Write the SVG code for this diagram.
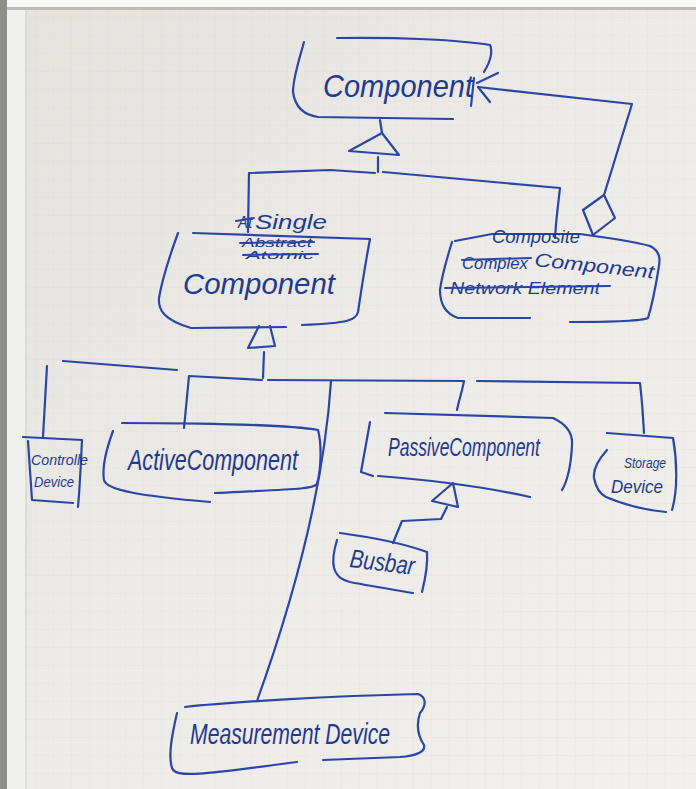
<svg xmlns="http://www.w3.org/2000/svg" width="696" height="789" viewBox="0 0 696 789">
  <style>
    .ink { fill: none; stroke: #2b45a5; stroke-width: 2.2; stroke-linecap: round; stroke-linejoin: round; }
    .t { font-family: "Liberation Sans", Arial, sans-serif; font-style: italic; fill: #22398f; }
    .gone { stroke: #2b45a5; stroke-width: 2; stroke-linecap: round; }
  </style>
  <defs>
    <linearGradient id="paper" x1="0" y1="0" x2="1" y2="1">
      <stop offset="0" stop-color="#e3e2dd"/>
      <stop offset="0.5" stop-color="#ecebe7"/>
      <stop offset="1" stop-color="#f1f0ec"/>
    </linearGradient>
    <pattern id="grid" width="18" height="18" patternUnits="userSpaceOnUse">
      <path d="M18 0 V18 M0 18 H18" fill="none" stroke="#d3d5d3" stroke-width="0.8"/>
    </pattern>
  </defs>

  <!-- flipchart sheet -->
  <rect x="0" y="0" width="696" height="789" fill="url(#paper)"/>
  <rect x="26" y="10" width="670" height="779" fill="url(#grid)" opacity="0.5"/>
  <rect x="0" y="0" width="696" height="7" fill="#f7f7f5"/>
  <rect x="0" y="7" width="696" height="3" fill="#bdbcb6"/>
  <rect x="0" y="0" width="7" height="789" fill="#8f8f8a"/>
  <rect x="7" y="10" width="19" height="779" fill="#f0f0ec"/>
  <line x1="26" y1="10" x2="26" y2="789" stroke="#cbcbc6" stroke-width="1"/>

  <!-- connectors -->
  <g id="connectors">
    <!-- generalisation: Single / Composite to Component -->
    <path class="ink" d="M382,133 L349,151 L399,155 Z"/>
    <path class="ink" d="M380,120 L382,133"/>
    <path class="ink" d="M378,157 L378,172"/>
    <path class="ink" d="M248,232 L249,173 L330,170 L375,173"/>
    <path class="ink" d="M383,172 L560,188 C558,205 556,220 555,238"/>
    <!-- aggregation: Composite contains Components -->
    <path class="ink" d="M478,87 L632,104 L604,195"/>
    <path class="ink" d="M477,83 L498,73 M478,87 L490,102"/>
    <path class="ink" d="M604,195 L583,210 L593,235 L615,218 Z"/>
    <!-- generalisation: device kinds to Single Component -->
    <path class="ink" d="M259,326 L248,348 L275,346 L270,326"/>
    <path class="ink" d="M264,352 L263,378"/>
    <path class="ink" d="M63,361 L177,370"/>
    <path class="ink" d="M47,366 L43,437"/>
    <path class="ink" d="M184,428 L189,376 L262,380"/>
    <path class="ink" d="M268,380 L464,381 C462,392 459,400 457,410"/>
    <path class="ink" d="M477,381 L640,383 C642,400 643,415 644,433"/>
    <path class="ink" d="M331,381 Q322,520 257,701"/>
    <!-- generalisation: Busbar to Passive Component -->
    <path class="ink" d="M453,483 L432,501 L458,507 Z"/>
    <path class="ink" d="M447,507 L441,519 L402,521 L393,543"/>
  </g>

  <g id="component">
    <path class="ink" d="M337,38 C400,37 460,40 490,45 C493,52 490,62 484,72"/>
    <path class="ink" d="M474,78 L471,106"/>
    <path class="ink" d="M304,42 C299,60 293,78 293,92 C295,106 303,115 318,117 L453,119"/>
    <text class="t" x="323" y="97" font-size="32" textLength="150" lengthAdjust="spacingAndGlyphs">Component</text>
  </g>

  <g id="single-component">
    <path class="ink" d="M193,233 L370,239 C366,260 362,285 358,312 C356,320 350,323 302,325"/>
    <path class="ink" d="M178,233 C170,255 162,280 159,298 C158,310 164,320 191,328 L286,327"/>
    <text class="t" x="238" y="228" font-size="16" textLength="14" lengthAdjust="spacingAndGlyphs">At</text>
    <line class="gone" x1="236" y1="221" x2="254" y2="218"/>
    <text class="t" x="255" y="229" font-size="20" textLength="72" lengthAdjust="spacingAndGlyphs">Single</text>
    <text class="t" x="242" y="247" font-size="13" textLength="70" lengthAdjust="spacingAndGlyphs">Abstract</text>
    <line class="gone" x1="240" y1="243" x2="314" y2="242"/>
    <text class="t" x="246" y="259" font-size="11" textLength="68" lengthAdjust="spacingAndGlyphs">Atomic</text>
    <line class="gone" x1="243" y1="255" x2="318" y2="254"/>
    <text class="t" x="183" y="294" font-size="30" textLength="152" lengthAdjust="spacingAndGlyphs">Component</text>
  </g>

  <g id="composite-component">
    <path class="ink" d="M455,241 L492,234 L580,234 C610,238 635,242 650,246 C662,252 660,262 658,272 C655,290 652,305 648,318 C640,322 600,322 570,322"/>
    <path class="ink" d="M452,242 C447,258 442,275 440,290 C440,305 446,314 458,318 L530,318"/>
    <text class="t" x="492" y="243" font-size="19" textLength="88" lengthAdjust="spacingAndGlyphs">Composite</text>
    <text class="t" x="462" y="269" font-size="17" textLength="66" lengthAdjust="spacingAndGlyphs">Complex</text>
    <line class="gone" x1="462" y1="260" x2="531" y2="258"/>
    <text class="t" x="534" y="266" font-size="19" textLength="120" lengthAdjust="spacingAndGlyphs" transform="rotate(6 534 266)">Component</text>
    <text class="t" x="450" y="294" font-size="16" textLength="150" lengthAdjust="spacingAndGlyphs">Network Element</text>
    <line class="gone" x1="445" y1="288" x2="610" y2="286"/>
  </g>

  <g id="controllable-device">
    <path class="ink" d="M23,437 L82,440 C81,460 80,485 78,507"/>
    <path class="ink" d="M28,441 L32,500 L73,503"/>
    <text class="t" x="31" y="465" font-size="15" textLength="57" lengthAdjust="spacingAndGlyphs">Controlle</text>
    <text class="t" x="34" y="487" font-size="15" textLength="40" lengthAdjust="spacingAndGlyphs">Device</text>
  </g>

  <g id="active-component">
    <path class="ink" d="M122,423 C200,423 290,425 318,430 C322,445 321,470 317,484 C313,489 300,489 215,493"/>
    <path class="ink" d="M113,431 C106,450 102,468 104,480 C106,490 140,496 210,502"/>
    <text class="t" x="128" y="470" font-size="30" textLength="170" lengthAdjust="spacingAndGlyphs">ActiveComponent</text>
  </g>

  <g id="passive-component">
    <path class="ink" d="M385,413 L553,418 C566,424 573,432 572,445 C571,465 568,480 562,490"/>
    <path class="ink" d="M370,422 L361,472 L373,476"/>
    <path class="ink" d="M378,476 C430,480 490,488 530,497"/>
    <text class="t" x="388" y="456" font-size="26" textLength="152" lengthAdjust="spacingAndGlyphs">PassiveComponent</text>
  </g>

  <g id="storage-device">
    <path class="ink" d="M607,433 L673,438 C677,460 678,490 672,510"/>
    <path class="ink" d="M607,450 C598,460 593,470 594,478 C596,488 600,494 606,497 C625,505 645,510 666,512"/>
    <text class="t" x="624" y="468" font-size="15" textLength="42" lengthAdjust="spacingAndGlyphs">Storage</text>
    <text class="t" x="611" y="493" font-size="19" textLength="52" lengthAdjust="spacingAndGlyphs">Device</text>
  </g>

  <g id="busbar">
    <path class="ink" d="M340,533 C370,537 405,544 427,552 C428,565 425,580 422,592"/>
    <path class="ink" d="M337,540 C334,550 332,560 334,568 C337,577 342,580 350,582 C370,586 395,590 413,593"/>
    <text class="t" x="349" y="567" font-size="26" textLength="65" lengthAdjust="spacingAndGlyphs" transform="rotate(7 349 567)">Busbar</text>
  </g>

  <g id="measurement-device">
    <path class="ink" d="M185,707 C230,702 330,696 418,694 C427,697 426,706 420,713 C416,725 418,736 424,745 C426,752 415,756 400,757 L323,760"/>
    <path class="ink" d="M177,713 C172,735 168,755 172,768 C176,778 200,775 297,762"/>
    <text class="t" x="190" y="744" font-size="30" textLength="200" lengthAdjust="spacingAndGlyphs">Measurement Device</text>
  </g>
</svg>
